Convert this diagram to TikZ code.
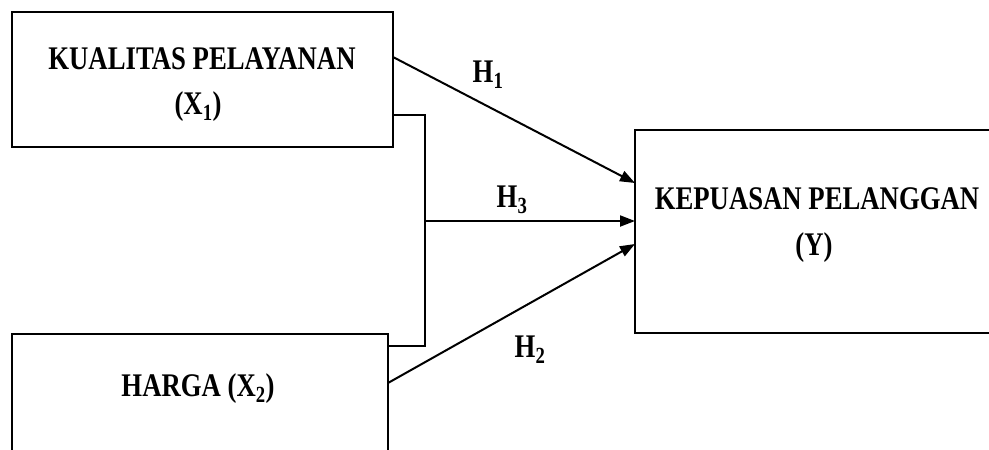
\documentclass[tikz,border=0pt]{standalone}
\usepackage{fontspec}
\setmainfont{Liberation Serif}
\usetikzlibrary{arrows.meta}
\newcommand{\sqz}[1]{\scalebox{0.81}[1]{#1}}
\begin{document}
\begin{tikzpicture}[x=1pt,y=-1pt,
  boxnode/.style={draw,line width=2pt,inner sep=0pt,outer sep=0pt,rectangle},
  lbl/.style={anchor=base,inner sep=0pt,font=\fontsize{33}{36}\selectfont\bfseries},
  conn/.style={line width=2pt},
  arr/.style={line width=2pt,-{Triangle[length=15pt,width=11pt]}}]
\useasboundingbox (0,0) rectangle (989,450);
\clip (0,0) rectangle (989,450);
\fill[white] (0,0) rectangle (989,450);
% boxes
\node[boxnode,minimum width=381pt,minimum height=135pt] (x1) at (202.5,79.5) {};
\node[boxnode,minimum width=376pt,minimum height=146pt] (x2) at (200,407) {};
\node[boxnode,minimum width=375pt,minimum height=203pt] (y) at (822.5,231.5) {};
% texts
\node[lbl] (t1a) at (202,69) {\sqz{KUALITAS PELAYANAN}};
\node[lbl] (t1b) at (198,114) {\sqz{(X\textsubscript{1})}};
\node[lbl] (t2) at (198,396) {\sqz{HARGA (X\textsubscript{2})}};
\node[lbl] (tya) at (817,209) {\sqz{KEPUASAN PELANGGAN}};
\node[lbl] (tyb) at (814,255) {\sqz{(Y)}};
\node[lbl] (h1) at (488,82) {\sqz{H\textsubscript{1}}};
\node[lbl] (h3) at (512,207) {\sqz{H\textsubscript{3}}};
\node[lbl] (h2) at (530,357) {\sqz{H\textsubscript{2}}};
% connectors
\coordinate (j) at (425,221);
\draw[conn] ([yshift=-35.5pt]x1.east) -| (j) |- ([yshift=61pt]x2.east);
\draw[arr] (j) -- ([yshift=10.5pt]y.west);
\draw[arr] ([yshift=22.5pt]x1.east) -- ([yshift=48.5pt]y.west);
\draw[arr] ([yshift=24pt]x2.east) -- ([yshift=-12.5pt]y.west);
\end{tikzpicture}
\end{document}
